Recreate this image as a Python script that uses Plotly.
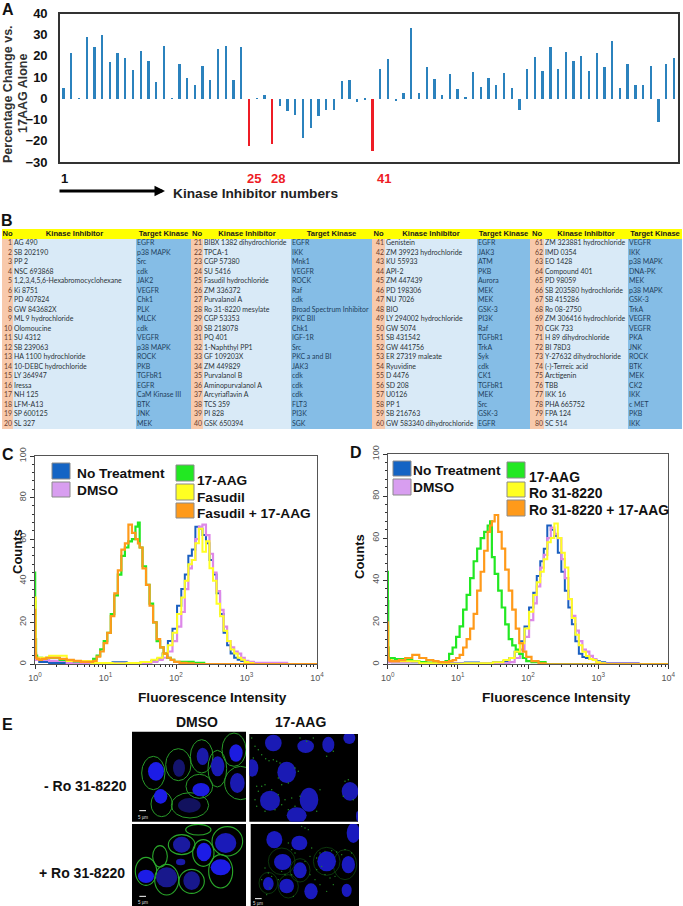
import plotly.graph_objects as go

W, H = 683, 906

# ---------- Panel A data ----------
INHIBITOR_NUMBERS = list(range(1, 81))
PCT_CHANGE = [4.9, 21.4, 0.2, 29, 24.3, 30, 17.3, 21.8, 19.3, 13.5, 22.4, 17.7, 7.8, 25.1, 0.3, 16.6, 9.9, 6.6, 15.4, 8.8,
              23.4, 24.8, 9.1, 24.3, -22, 0.3, 2, -21.2, -3.3, -5.7, -7.7, -18.4, -13.7, -8.3, -5.2, -5.2, 8.5, 9.1, -1.4, -0.2,
              -24.5, 14, 18.7, -1, 2.7, 33.6, 2.7, 15.2, 9.3, 1.7, 11.9, 4.5, 0.8, 12.6, 5.7, 9.9, 6.4, 12.1, 5, -5.3,
              14, 19.6, 13.3, 24.6, 14, 22, 18, 20.4, 13.3, 21.4, 14.9, 27.3, 5, 16.2, 6.6, 6.4, 15.4, -10.7, 16.5, 19.2]
RED_BARS = [25, 28, 41]
Y_TICKS_A = [40, 30, 20, 10, 0, -10, -20, -30]

# ---------- Panel B data ----------
NAMES = ["AG 490", "SB 202190", "PP 2", "NSC 693868", "1,2,3,4,5,6-Hexabromocyclohexane", "Ki 8751", "PD 407824", "GW 843682X",
         "ML 9 hydrochloride", "Olomoucine", "SU 4312", "SB 239063", "HA 1100 hydrochloride", "10-DEBC hydrochloride", "LY 364947",
         "Iressa", "NH 125", "LFM-A13", "SP 600125", "SL 327",
         "BIBX 1382 dihydrochloride", "TPCA-1", "CGP 57380", "SU 5416", "Fasudil hydrochloride", "ZM 336372", "Purvalanol A",
         "Ro 31-8220 mesylate", "CGP 53353", "SB 218078", "PQ 401", "1-Naphthyl PP1", "GF 109203X", "ZM 449829", "Purvalanol B",
         "Aminopurvalanol A", "Arcyriaflavin A", "TCS 359", "PI 828", "GSK 650394",
         "Genistein", "ZM 39923 hydrochloride", "KU 55933", "API-2", "ZM 447439", "PD 198306", "NU 7026", "BIO",
         "LY 294002 hydrochloride", "GW 5074", "SB 431542", "GW 441756", "ER 27319 maleate", "Ryuvidine", "D 4476", "SD 208",
         "U0126", "PP 1", "SB 216763", "GW 583340 dihydrochloride",
         "ZM 323881 hydrochloride", "IMD 0354", "EO 1428", "Compound 401", "PD 98059", "SB 203580 hydrochloride", "SB 415286",
         "Ro 08-2750", "ZM 306416 hydrochloride", "CGK 733", "H 89 dihydrochloride", "BI 78D3", "Y-27632 dihydrochloride",
         "(-)-Terreic acid", "Arctigenin", "TBB", "IKK 16", "PHA 665752", "FPA 124", "SC 514"]
TARGETS = ["EGFR", "p38 MAPK", "Src", "cdk", "JAK2", "VEGFR", "Chk1", "PLK", "MLCK", "cdk", "VEGFR", "p38 MAPK", "ROCK", "PKB", "TGFbR1",
           "EGFR", "CaM Kinase III", "BTK", "JNK", "MEK",
           "EGFR", "IKK", "Mnk1", "VEGFR", "ROCK", "Raf", "cdk", "Broad Spectrum Inhibitor", "PKC BII", "Chk1", "IGF-1R", "Src",
           "PKC a and BI", "JAK3", "cdk", "cdk", "cdk", "FLT3", "PI3K", "SGK",
           "EGFR", "JAK3", "ATM", "PKB", "Aurora", "MEK", "MEK", "GSK-3", "PI3K", "Raf", "TGFbR1", "TrkA", "Syk", "cdk", "CK1", "TGFbR1",
           "MEK", "Src", "GSK-3", "EGFR",
           "VEGFR", "IKK", "p38 MAPK", "DNA-PK", "MEK", "p38 MAPK", "GSK-3", "TrkA", "VEGFR", "VEGFR", "PKA", "JNK", "ROCK", "BTK", "MEK",
           "CK2", "IKK", "c MET", "PKB", "IKK"]
HEADERS = ["No", "Kinase Inhibitor", "Target Kinase"]

# ---------- Panels C / D data (log10 fluorescence, counts) ----------
LOG_LOW = [0, 0.005, 0.01, 0.02, 0.04, 0.08, 0.12, 0.2, 0.3, 0.4, 0.5, 0.6, 0.7, 0.75, 0.8, 0.85, 0.9, 0.95, 1.0, 1.05, 1.1, 1.15, 1.2,
           1.25, 1.3, 1.35, 1.4, 1.45, 1.47, 1.5, 1.55, 1.6, 1.65, 1.7, 1.75, 1.8, 1.85, 1.9, 1.95, 2.0, 2.1, 2.2, 2.3, 2.5, 3, 4]
LOG_HIGH = [0, 0.02, 0.1, 0.3, 0.6, 1, 1.2, 1.4, 1.6, 1.7, 1.77, 1.85, 1.92, 1.98, 2.05, 2.1, 2.15, 2.2, 2.25, 2.3, 2.35, 2.4, 2.45, 2.5,
            2.55, 2.6, 2.65, 2.7, 2.75, 2.8, 2.85, 2.9, 2.95, 3.0, 3.05, 3.15, 4]
C_GREEN = [44, 30, 12, 4, 3, 3, 2.5, 3, 3, 2, 1.5, 1.2, 1, 1, 1.2, 2.5, 4, 7, 11, 15, 24, 33, 43, 52, 56, 59, 60, 66, 68, 56, 47, 38, 29, 20,
           11, 8, 5, 3, 2, 1, 1, 1, 0.5, 0, 0, 0]
C_ORANGE = [26, 12, 5, 3, 2.5, 2, 2.5, 3, 3, 2.5, 2, 1.5, 1, 1, 1, 1.5, 3.5, 6, 10, 15, 23, 34, 45, 55, 58, 67, 63, 60, 58, 56, 46, 38, 28, 20,
            12, 8, 5, 3, 2, 1, 0.5, 0.3, 0, 0, 0, 0]
C_BLUE = [10, 2, 1, 0.5, 0.5, 0.5, 0.8, 0.5, 1, 1.5, 2.5, 5, 11, 17, 28, 36, 43, 52, 55, 66, 65, 62, 58, 50, 43, 34, 24, 15, 9, 5, 3, 2, 1.5,
          1, 1, 0.5, 0]
C_PINK = [8, 2, 2, 1.5, 0.5, 0.3, 0.3, 0.3, 0.5, 1, 2, 3, 6, 11, 18, 25, 36, 46, 50, 60, 66, 67, 62, 53, 44, 35, 26, 18, 11, 8, 6, 5, 3, 1.5,
          1, 0.5, 0]
C_YELLOW = [32, 3, 3, 4, 1.5, 0.5, 0.3, 0.5, 1, 2, 3, 5, 9, 15, 24, 32, 40, 48, 50, 58, 65, 54, 59, 46, 40, 29, 23, 16, 11, 7, 5, 3, 2, 1, 0.5,
            0, 0]
D_GREEN = [44, 30, 8, 3, 3, 3, 2.5, 2.5, 2, 1.5, 1, 0.8, 0.5, 0.5, 1, 1.5, 5, 8, 13, 18, 26, 33, 41, 49, 55, 60, 63, 66, 68, 51, 43, 35, 27, 19,
           12, 9, 7, 5, 3, 1.5, 1, 1, 0, 0, 0, 0]
D_ORANGE = [20, 8, 3, 2, 1.5, 1.5, 1.5, 2, 3, 4.5, 3, 2, 1.5, 1, 1, 1, 1.5, 2, 3, 4.5, 8, 12, 17, 24, 35, 44, 54, 63, 66, 68, 71, 63, 55, 45, 35,
            26, 17, 10, 6, 3.5, 1.5, 0.5, 0, 0, 0, 0]
D_BLUE = [5, 2, 1, 1, 0.5, 0.5, 0.8, 0.5, 1, 1.5, 3, 6, 11, 18, 27, 34, 42, 49, 55, 66, 64, 61, 53, 44, 35, 27, 19, 11, 5, 3.5, 3, 2.5, 2, 1.5,
          1, 0.5, 0]
D_PINK = [4, 1, 1, 1, 0.5, 0.3, 0.3, 0.3, 0.5, 0.5, 1, 3, 7, 13, 21, 29, 37, 46, 52, 60, 65, 62, 60, 50, 41, 31, 23, 16, 11, 7, 6, 4, 2.5, 1, 0.5,
          0.3, 0]
D_YELLOW = [18, 2, 1.5, 1.5, 0.5, 0.3, 0.5, 0.5, 1, 2, 3, 6, 10, 17, 25, 33, 39, 44, 50, 58, 60, 67, 60, 53, 46, 31, 22, 14, 9, 6, 4, 2.5, 2, 1,
            0.5, 0, 0]
LEGEND_LEFT = ["No Treatment", "DMSO"]
LEGEND_C = ["17-AAG", "Fasudil", "Fasudil + 17-AAG"]
LEGEND_D = ["17-AAG", "Ro 31-8220", "Ro 31-8220 + 17-AAG"]

# ---------- Panel E (micrograph sketch; centre x, centre y, radius x, radius y, colour) ----------
P1_CELLS = [(70, 135, 35, 50), (95, 228, 32, 38), (145, 110, 38, 48), (215, 85, 34, 50), (262, 122, 28, 55), (208, 175, 40, 36),
            (180, 232, 56, 38), (332, 165, 48, 50), (312, 65, 36, 50)]
P1_NUC = [(78, 130, 24, 28, "#1c1ce6"), (92, 205, 20, 22, "#1c1ce6"), (147, 120, 18, 26, "#14146e"), (218, 85, 18, 26, "#1a1aa8"),
          (263, 115, 20, 30, "#1a1ab4"), (213, 185, 26, 20, "#1c1ce0"), (318, 75, 20, 26, "#1c1ce0"), (322, 165, 22, 30, "#1a1ab0"),
          (178, 232, 34, 22, "#12125e")]
P3_CELLS = [(48, 430, 32, 42), (110, 455, 36, 46), (185, 460, 38, 36), (90, 385, 22, 32), (155, 350, 40, 30), (220, 375, 32, 40),
            (292, 340, 46, 44), (272, 430, 36, 50), (205, 305, 38, 16)]
P3_NUC = [(48, 445, 24, 20, "#1c1ce6"), (110, 448, 32, 30, "#18188c"), (185, 458, 25, 28, "#18188c"), (155, 350, 26, 24, "#1a1aa0"),
          (222, 372, 22, 28, "#1c1ce6"), (287, 345, 32, 30, "#1a1ab8"), (272, 418, 30, 24, "#1c1ce6"), (152, 402, 14, 10, "#1a1aa8")]
P2_NUC = [(85, 45, 25, 25), (182, 55, 25, 20), (250, 50, 18, 24), (313, 30, 18, 18), (125, 133, 28, 32), (75, 218, 30, 30),
          (192, 215, 28, 36), (155, 262, 30, 24), (315, 190, 25, 28), (22, 120, 18, 26), (338, 265, 5, 15)]
P4_CELLS = [(245, 400, 40, 42), (300, 410, 35, 45), (70, 465, 28, 32), (130, 475, 30, 35), (110, 400, 40, 40), (165, 427, 30, 35)]
P4_NUC = [(88, 335, 24, 26), (163, 345, 24, 22), (113, 402, 26, 24), (165, 427, 20, 24), (245, 400, 28, 30), (310, 410, 20, 26),
          (70, 467, 16, 20), (125, 474, 22, 22), (198, 490, 20, 24), (305, 487, 15, 20), (325, 315, 20, 30)]
P2_SPECK_X = [30, 40, 50, 62, 72, 85, 95, 105, 150, 160, 130, 100, 110, 40, 50, 60, 80, 100, 30, 35, 110, 120, 140, 150, 165, 130, 225, 215,
              300, 310, 325, 295, 20, 25, 245, 265, 165, 185, 205, 60, 90, 35]
P2_SPECK_Y = [55, 65, 80, 92, 98, 95, 100, 105, 120, 130, 165, 150, 170, 190, 175, 170, 185, 200, 215, 235, 230, 215, 210, 235, 205, 245, 185,
              250, 160, 155, 215, 205, 30, 90, 85, 70, 30, 40, 30, 250, 245, 175]
P4_SPECK_X = [170, 180, 190, 200, 130, 140, 215, 225, 240, 260, 275, 290, 300, 320, 240, 255, 270, 60, 70, 50, 80, 100, 120, 140, 145, 210, 225,
              245, 265, 180, 195, 150, 110, 75, 65, 195, 215, 230]
P4_SPECK_Y = [295, 300, 305, 360, 345, 365, 390, 375, 370, 368, 372, 380, 365, 375, 440, 450, 445, 420, 435, 455, 445, 455, 440, 440, 505, 455,
              470, 490, 470, 400, 385, 375, 430, 480, 500, 440, 425, 415]

# ---------- Layout geometry (pixels) ----------
def dx(a, b):
    return [a / W, b / W]
def dy(top, bottom):
    return [1 - bottom / H, 1 - top / H]

COL_EDGES = [2, 13, 136, 191, 203, 291, 372, 385, 477, 530, 544, 628, 682]
COL_KINDS = [1, 2, 3] * 4
FILL = [[0.0, "#ffff00"], [0.25, "#ffff00"], [0.25, "#f8c9ab"], [0.5, "#f8c9ab"], [0.5, "#d9eaf7"], [0.75, "#d9eaf7"], [0.75, "#85bde6"], [1.0, "#85bde6"]]
BLUE, PINK, GREEN, YELLOW, ORANGE = "#1a5fc0", "#dd88e8", "#22e822", "#ffff22", "#ff9a1a"
BAR_BLUE, RED = "#2b82bd", "#ee1c25"
SANS = "Liberation Sans"
CELL_FONT = 6.95
LABEL_FONT = 13.7

fig = go.Figure()

# --- A
fig.add_trace(go.Bar(x=INHIBITOR_NUMBERS, y=PCT_CHANGE, width=0.3,
                     marker=dict(color=[RED if n in RED_BARS else BAR_BLUE for n in INHIBITOR_NUMBERS], line_width=0),
                     xaxis="x", yaxis="y", showlegend=False))

# --- B
z = [[0] * 12] + [[k for k in COL_KINDS] for _ in range(20)]
fig.add_trace(go.Heatmap(x=COL_EDGES, y=list(range(21)), z=z, zmin=0, zmax=3, colorscale=FILL, showscale=False,
                         xaxis="x2", yaxis="y2", hoverinfo="skip"))
rows = list(range(1, 21))
for g in range(4):
    a, b, c, d = COL_EDGES[3 * g: 3 * g + 4]
    nums = INHIBITOR_NUMBERS[20 * g: 20 * g + 20]
    fig.add_trace(go.Scatter(x=[b - 1] * 20, y=rows, mode="text", text=[str(n) for n in nums], textposition="middle left",
                             textfont=dict(family="Lato", size=CELL_FONT, color="#6a4030"), xaxis="x2", yaxis="y2", showlegend=False))
    fig.add_trace(go.Scatter(x=[b + 1] * 20, y=rows, mode="text", text=NAMES[20 * g: 20 * g + 20], textposition="middle right",
                             textfont=dict(family="Lato", size=CELL_FONT, color="#2b3338"), xaxis="x2", yaxis="y2", showlegend=False))
    fig.add_trace(go.Scatter(x=[c + 1] * 20, y=rows, mode="text", text=TARGETS[20 * g: 20 * g + 20], textposition="middle right",
                             textfont=dict(family="Lato", size=CELL_FONT, color="#1f3f5c"), xaxis="x2", yaxis="y2", showlegend=False))
    fig.add_trace(go.Scatter(x=[(a + b) / 2, (b + c) / 2, (c + d) / 2], y=[0, 0, 0], mode="text", text=HEADERS, textposition="middle center",
                             textfont=dict(family=SANS, size=7.6, color="#1a1a1a", weight="bold"), xaxis="x2", yaxis="y2", showlegend=False))

# --- C, D
def curve(log_x, y, color, width, xa, ya):
    fig.add_trace(go.Scatter(x=[10 ** v for v in log_x], y=y, mode="lines", line=dict(color=color, width=width, shape="hvh"),
                             cliponaxis=False, xaxis=xa, yaxis=ya, showlegend=False, hoverinfo="skip"))

curve(LOG_HIGH, C_BLUE, BLUE, 2, "x3", "y3")
curve(LOG_HIGH, C_PINK, PINK, 2.2, "x3", "y3")
curve(LOG_LOW, C_GREEN, GREEN, 2.2, "x3", "y3")
curve(LOG_HIGH, C_YELLOW, YELLOW, 2, "x3", "y3")
curve(LOG_LOW, C_ORANGE, ORANGE, 2.2, "x3", "y3")
curve(LOG_HIGH, D_BLUE, BLUE, 2, "x4", "y4")
curve(LOG_HIGH, D_PINK, PINK, 2.2, "x4", "y4")
curve(LOG_LOW, D_GREEN, GREEN, 2.2, "x4", "y4")
curve(LOG_HIGH, D_YELLOW, YELLOW, 2, "x4", "y4")
curve(LOG_LOW, D_ORANGE, ORANGE, 2.2, "x4", "y4")

# --- E speckles
fig.add_trace(go.Scatter(x=P2_SPECK_X, y=P2_SPECK_Y, mode="markers", marker=dict(color="#238a23", size=1.5), xaxis="x6", yaxis="y6",
                         showlegend=False, hoverinfo="skip"))
fig.add_trace(go.Scatter(x=P4_SPECK_X, y=P4_SPECK_Y, mode="markers", marker=dict(color="#238a23", size=1.4), xaxis="x8", yaxis="y8",
                         showlegend=False, hoverinfo="skip"))

shapes, ann = [], []

def text(x, y, s, size=LABEL_FONT, color="#111", anchor="center", angle=0, weight="bold", family=SANS):
    ann.append(dict(x=x / W, y=1 - y / H, xref="paper", yref="paper", text=s, showarrow=False, xanchor=anchor, yanchor="middle",
                    textangle=angle, font=dict(family=family, size=size, color=color, weight=weight)))

# axis styling
hidden = dict(visible=False, showgrid=False, zeroline=False, automargin=False)
layout_axes = {}
layout_axes["xaxis"] = dict(domain=dx(60, 678), range=[0.547, 80.52], anchor="y", automargin=False, showticklabels=False, ticks="", showgrid=False, zeroline=False,
                            showline=True, mirror=True, linecolor="#333", linewidth=1.6)
layout_axes["yaxis"] = dict(domain=dy(13.5, 162), range=[-30, 40], anchor="x", automargin=False, tickvals=Y_TICKS_A, ticks="", showgrid=False, zeroline=False, showline=True,
                            mirror=True, linecolor="#333", linewidth=1.6, ticklabelstandoff=8,
                            tickfont=dict(family=SANS, size=13, color="#111", weight="bold"))
layout_axes["xaxis2"] = dict(domain=dx(2, 682), range=[2, 682], anchor="y2", **hidden)
layout_axes["yaxis2"] = dict(domain=dy(229, 429), range=[20.5, -0.5], anchor="x2", **hidden)

MINOR_X = [m * 10 ** e for e in range(4) for m in range(2, 10)]
def flow_axes(n, l, r, t, b):
    layout_axes[f"xaxis{n}"] = dict(domain=dx(l, r), type="log", range=[0, 4], anchor=f"y{n}", automargin=False, tickvals=[1, 10, 100, 1000, 10000],
                             ticktext=["10<sup>0</sup>", "10<sup>1</sup>", "10<sup>2</sup>", "10<sup>3</sup>", "10<sup>4</sup>"],
                             ticks="outside", ticklen=4, tickcolor="#333", showgrid=False, zeroline=False, showline=True, mirror=True,
                             linecolor="#555", linewidth=1, ticklabelstandoff=1, tickfont=dict(family=SANS, size=9, color="#555"),
                             minor=dict(ticks="outside", ticklen=2, tickcolor="#333", tickvals=MINOR_X, showgrid=False))
    layout_axes[f"yaxis{n}"] = dict(domain=dy(t, b), range=[0, 100], anchor=f"x{n}", automargin=False, dtick=20, tickangle=-90, ticks="outside", ticklen=4, tickcolor="#333",
                             showgrid=False, zeroline=False, showline=True, mirror=True, linecolor="#555", linewidth=1,
                             tickfont=dict(family=SANS, size=9, color="#555"),
                             minor=dict(ticks="outside", ticklen=2, tickcolor="#333", dtick=4, showgrid=False))

flow_axes(3, 35, 317, 456, 664)
flow_axes(4, 387.7, 668.3, 454, 664.3)

# E panels: axes are in crop pixels (3 per page pixel)
def micro(n, l, r, t, b, ox, oy):
    layout_axes[f"xaxis{n}"] = dict(domain=dx(l, r), range=[(l - ox) * 3, (r - ox) * 3], anchor=f"y{n}", **hidden)
    layout_axes[f"yaxis{n}"] = dict(domain=dy(t, b), range=[(b - oy) * 3, (t - oy) * 3], anchor=f"x{n}", **hidden)
    shapes.append(dict(type="rect", xref=f"x{n} domain", yref=f"y{n} domain", x0=0, x1=1, y0=0, y1=1, fillcolor="#000", line_width=0, layer="below"))

def ell(n, c, color, width=0, fill=None):
    shapes.append(dict(type="circle", xref=f"x{n}", yref=f"y{n}", x0=c[0] - c[2], x1=c[0] + c[2], y0=c[1] - c[3], y1=c[1] + c[3],
                       line=dict(color=color, width=width), fillcolor=fill if fill else "rgba(0,0,0,0)", layer="below"))

micro(5, 132, 246, 731.7, 821.7, 130, 728)
micro(6, 249.3, 358, 734, 821.7, 245, 728)
micro(7, 132, 246, 824, 906, 130, 728)
micro(8, 250.7, 359, 824, 906, 245, 728)
for c in P1_CELLS:
    ell(5, c, "#289a28", 1)
for c in P1_NUC:
    ell(5, c, c[4], 0, c[4])
for c in P3_CELLS:
    ell(7, c, "#2aa82a", 1.1)
for c in P3_NUC:
    ell(7, c, c[4], 0, c[4])
for c in P2_NUC:
    ell(6, c, "#1a1ab4", 0, "#1a1ab4")
for c in P4_CELLS:
    ell(8, c, "#145a14", 0.6)
for c in P4_NUC:
    ell(8, c, "#1a1abe", 0, "#1a1abe")

# scale bars
for xr, yr, bx, by, tx in [("x5", "y5", 38, 248, 268), ("x7", "y7", 38, 505, 522), ("x8", "y8", 40, 512, 525)]:
    shapes.append(dict(type="line", xref=xr, yref=yr, x0=bx - 10, x1=bx + 10, y0=by, y1=by, line=dict(color="#fff", width=1), layer="below"))
    ann.append(dict(x=bx, y=tx, xref=xr, yref=yr, text="5 µm", showarrow=False, font=dict(family=SANS, size=4.5, color="#ddd")))

# legends
def swatch(x0, x1, y0, y1, color):
    shapes.append(dict(type="rect", xref="paper", yref="paper", x0=x0 / W, x1=x1 / W, y0=1 - y1 / H, y1=1 - y0 / H, fillcolor=color,
                       line=dict(color="#8a8a8a", width=1), layer="above"))

swatch(52, 70, 463, 479, "#1464c4"); swatch(52, 70, 482, 497, "#d89ef0")
swatch(176, 194, 465, 481, GREEN); swatch(176, 194, 484, 500, YELLOW); swatch(176, 194, 503, 518, ORANGE)
text(75, 473, LEGEND_LEFT[0], anchor="left"); text(75, 490, LEGEND_LEFT[1], anchor="left")
for s, y in zip(LEGEND_C, [480, 497, 513]):
    text(195, y, s, anchor="left")
swatch(393, 411, 461, 476, "#1464c4"); swatch(393, 411, 479, 495, "#d89ef0")
swatch(507, 525, 462, 478, GREEN); swatch(507, 525, 482, 497, YELLOW); swatch(507, 525, 500, 516, ORANGE)
text(411, 470, LEGEND_LEFT[0], anchor="left"); text(411, 487, LEGEND_LEFT[1], anchor="left")
for s, y in zip(LEGEND_D, [477, 493, 510]):
    text(527, y, s, size=13.9, anchor="left")

# labels
for s, x, y in [("A", 8, 9), ("B", 7, 220), ("C", 8, 454), ("D", 356, 452), ("E", 7, 724)]:
    text(x, y, s, size=16, color="#111", anchor="center")
text(8, 94, "Percentage Change vs.", size=12.5, color="#333", angle=-90)
text(23, 94, "17AAG Alone", size=12.5, color="#333", angle=-90)
text(64, 178, "1", size=13)
for s, x in [("25", 254), ("28", 278), ("41", 384)]:
    text(x, 178, s, size=13, color=RED)
text(171, 194, "Kinase Inhibitor numbers", size=13.7, color="#222", anchor="left")
ann.append(dict(x=165 / W, y=1 - 191 / H, xref="paper", yref="paper", ax=-107, ay=0, text="", showarrow=True, arrowhead=2, arrowsize=0.7,
                arrowwidth=3, arrowcolor="#000"))
text(17, 552, "Counts", size=13, angle=-90); text(359, 557, "Counts", size=13, angle=-90)
text(212, 697, "Fluorescence Intensity"); text(556, 697, "Fluorescence Intensity")
text(197, 722, "DMSO", size=14); text(300, 722, "17-AAG", size=14)
text(129, 786, "- Ro 31-8220", size=14, anchor="right"); text(127, 873, "+ Ro 31-8220", size=14, anchor="right")

fig.update_layout(width=W, height=H, margin=dict(l=0, r=0, t=0, b=0), autosize=False, paper_bgcolor="#fff", plot_bgcolor="rgba(0,0,0,0)",
                  bargap=0, shapes=shapes, annotations=ann, **layout_axes)
fig.write_html("out.html", config=dict(displayModeBar=False), post_script="document.body.style.margin='0';")
